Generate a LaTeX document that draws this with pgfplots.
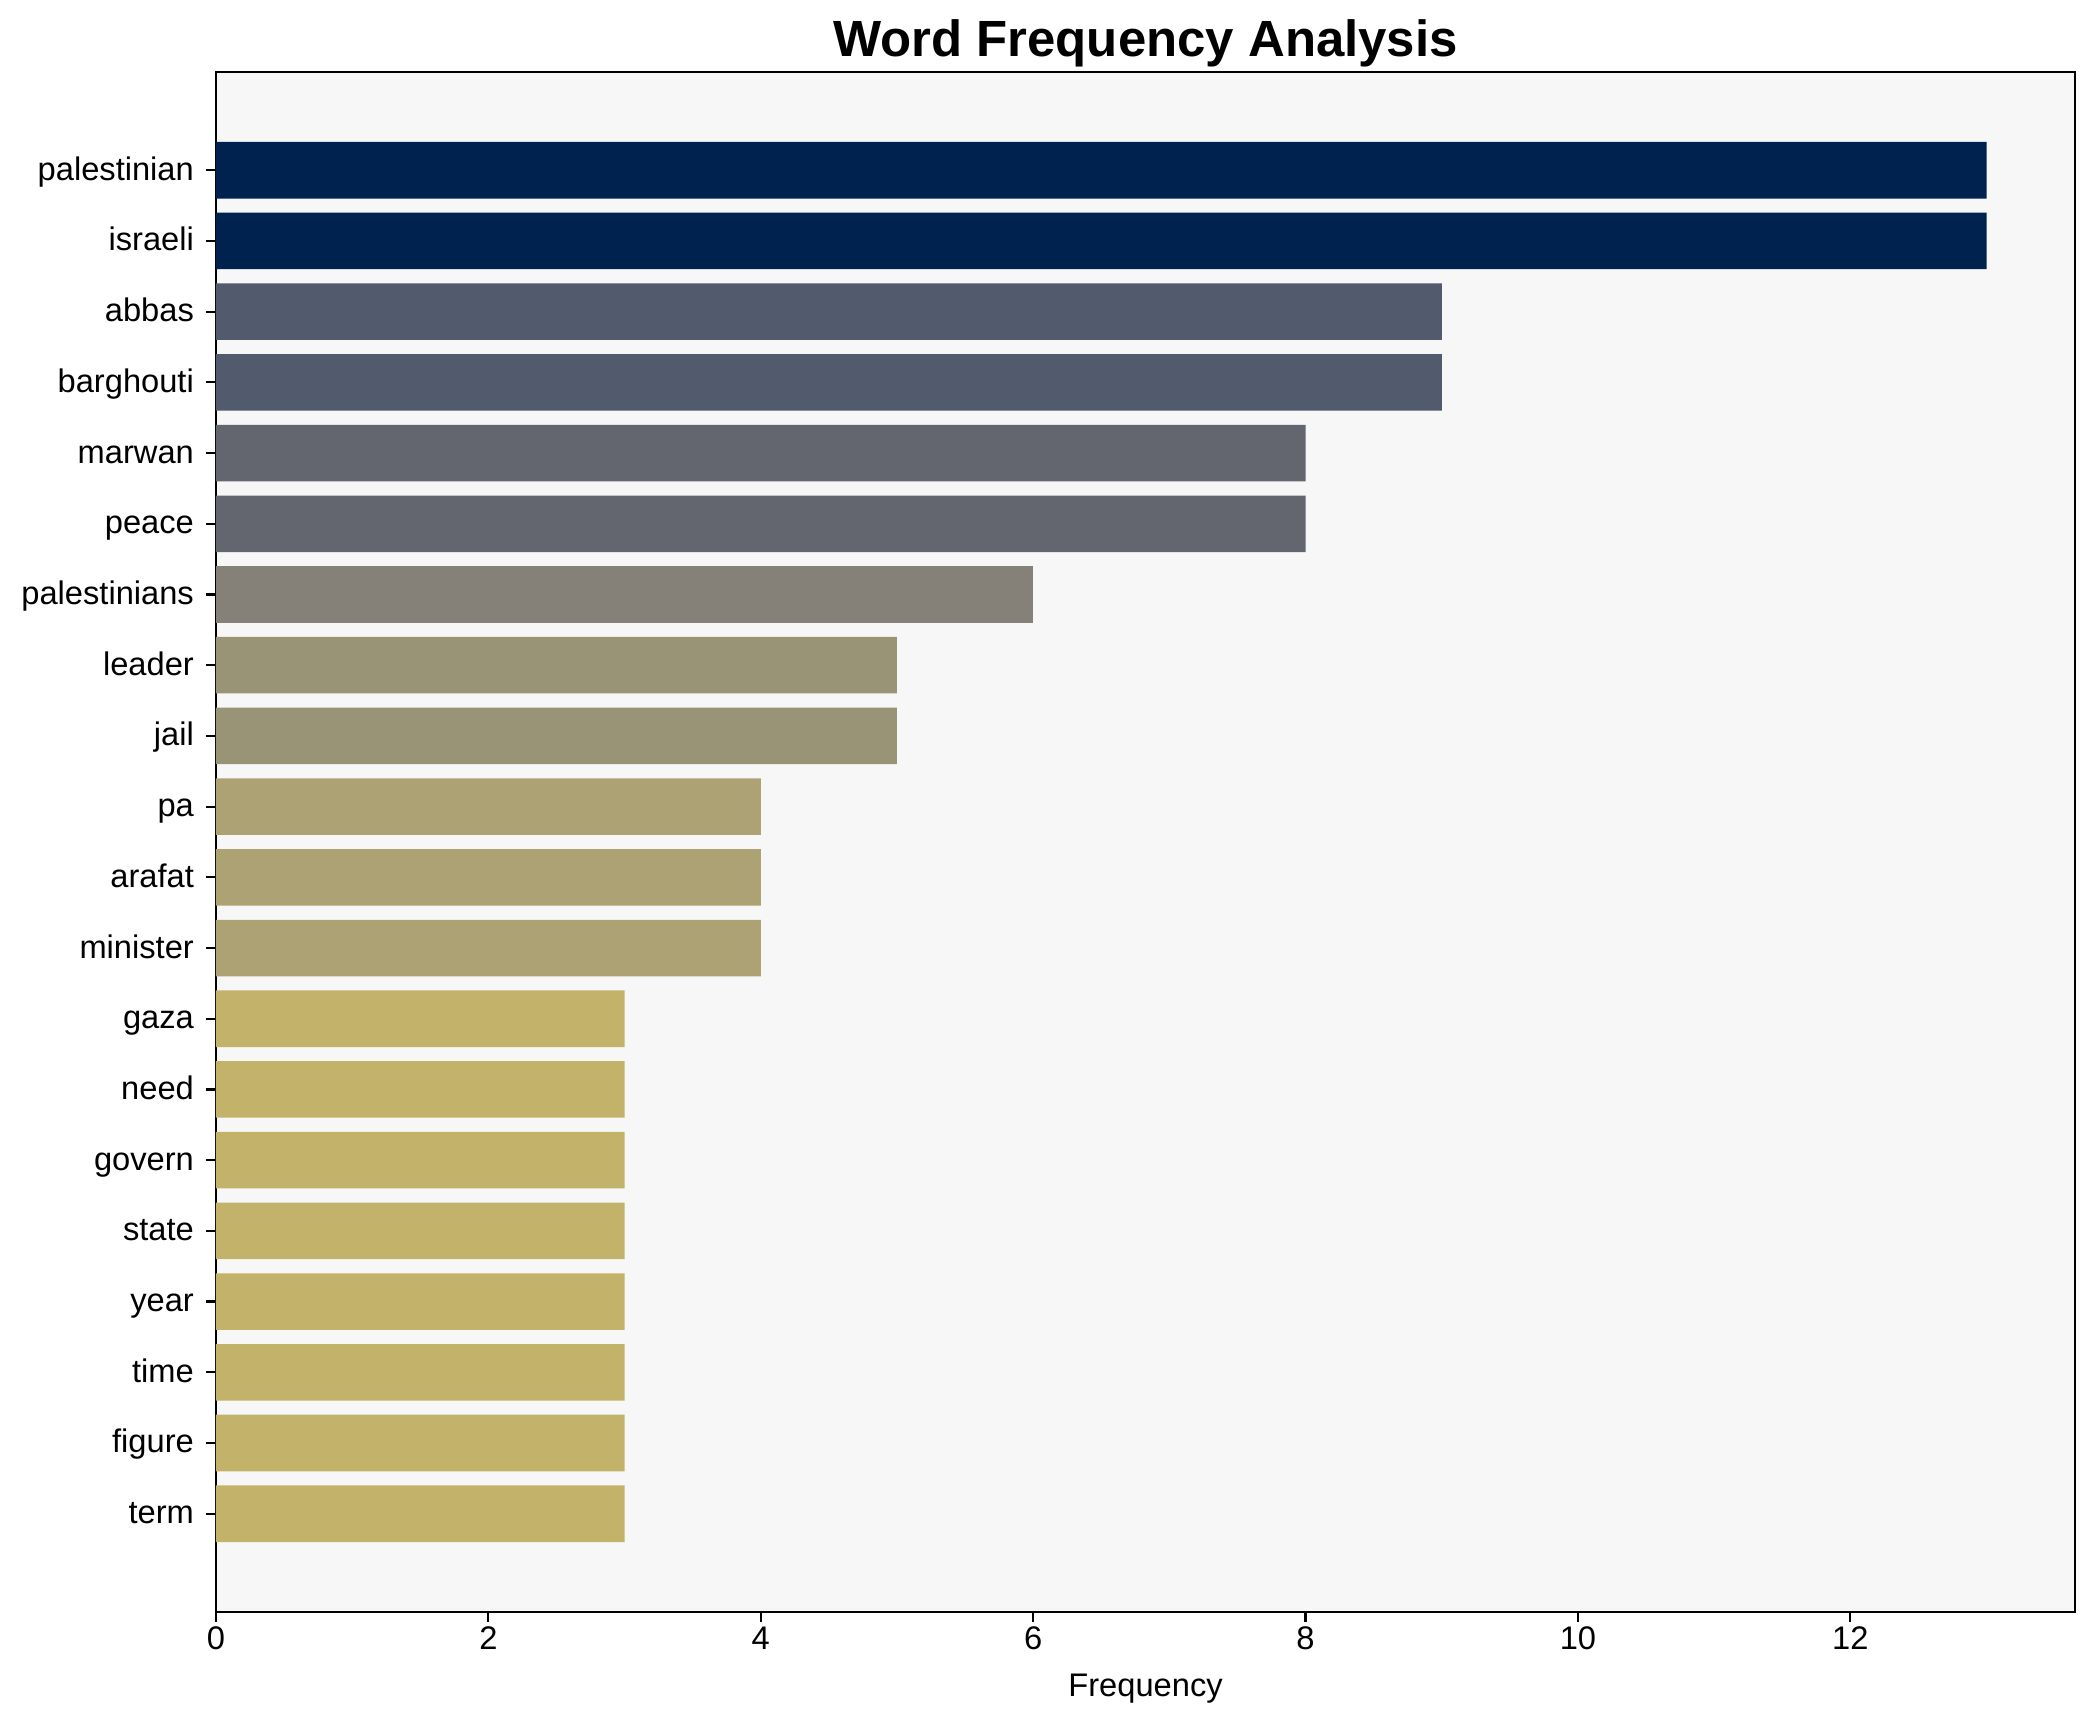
\documentclass[border=0pt]{standalone}
\usepackage{fontspec}
\setmainfont{Liberation Sans}
\usepackage{pgfplots}
\pgfplotsset{compat=1.18}

% bar colours, one per frequency level (cividis-like)
\definecolor{c13}{HTML}{00224F}
\definecolor{c9}{HTML}{525A6E}
\definecolor{c8}{HTML}{63656F}
\definecolor{c6}{HTML}{858078}
\definecolor{c5}{HTML}{9A9476}
\definecolor{c4}{HTML}{ACA273}
\definecolor{c3}{HTML}{C2B26A}
\definecolor{axbg}{HTML}{F7F7F7}

\begin{document}
\begin{tikzpicture}[x=1pt,y=1pt]
\useasboundingbox (-78.05,-39.75) rectangle (679.0,582.5);
\begin{axis}[
    at={(0,0)}, anchor=south west,
    scale only axis,
    width=671.8pt, height=556.5pt,
    xbar, bar width=0.8, bar shift=0pt,
    y dir=reverse,
    xmin=0, xmax=13.65,
    ymin=-1.39, ymax=20.39,
    axis background/.style={fill=axbg},
    axis line style={line width=0.9pt},
    major tick style={line width=0.8pt, black},
    tick align=outside,
    major tick length=3.6pt,
    xtick pos=left, ytick pos=left,
    xtick={0,2,...,12},
    ytick={0,...,19},
    yticklabels={palestinian,israeli,abbas,barghouti,marwan,peace,palestinians,leader,jail,pa,arafat,minister,gaza,need,govern,state,year,time,figure,term},
    /pgf/number format/assume math mode=true,
    tick label style={font=\fontsize{11.8}{14}\selectfont},
    yticklabel style={inner sep=0pt, anchor=east, text height=0.72em, text depth=0pt, xshift=-4.2pt},
    xticklabel style={inner sep=0pt, anchor=base, yshift=-10pt},
    title={Word Frequency Analysis},
    title style={font=\fontsize{18.4}{22}\selectfont\bfseries, at={(0.5,1)}, anchor=base, yshift=-0.4pt},
    xlabel={Frequency},
    xlabel style={font=\fontsize{11.8}{14}\selectfont, at={(0.5,0)}, anchor=base, yshift=-30.4pt},
]
\addplot[fill=c13, draw=none] coordinates {(13,0) (13,1)};
\addplot[fill=c9, draw=none] coordinates {(9,2) (9,3)};
\addplot[fill=c8, draw=none] coordinates {(8,4) (8,5)};
\addplot[fill=c6, draw=none] coordinates {(6,6)};
\addplot[fill=c5, draw=none] coordinates {(5,7) (5,8)};
\addplot[fill=c4, draw=none] coordinates {(4,9) (4,10) (4,11)};
\addplot[fill=c3, draw=none] coordinates {(3,12) (3,13) (3,14) (3,15) (3,16) (3,17) (3,18) (3,19)};
\end{axis}
\end{tikzpicture}
\end{document}
